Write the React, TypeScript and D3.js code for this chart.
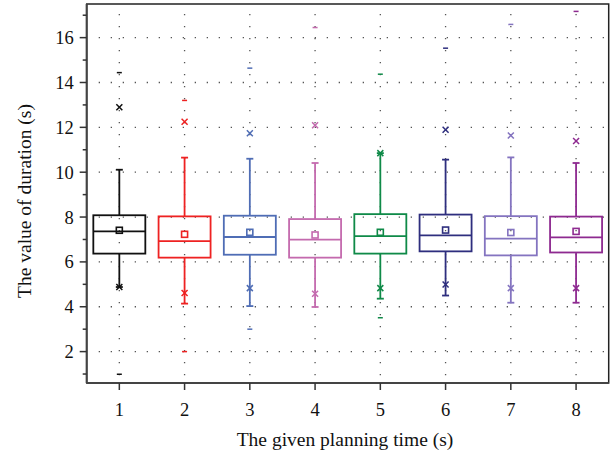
import React from "react";
import * as d3 from "d3";

const categories = [1, 2, 3, 4, 5, 6, 7, 8];
const colors = ["#111111", "#ee2222", "#4f6db5", "#c46aae", "#0f8a48", "#2e2e7e", "#8474c0", "#8e2a90"];
const q1 = [6.37, 6.19, 6.32, 6.19, 6.37, 6.47, 6.29, 6.42];
const medians = [7.36, 6.93, 7.11, 6.99, 7.15, 7.18, 7.04, 7.09];
const q3 = [8.08, 8.03, 8.06, 7.91, 8.13, 8.11, 8.04, 8.02];
const means = [7.41, 7.23, 7.32, 7.2, 7.32, 7.42, 7.31, 7.36];
const whiskerLow = [4.88, 4.14, 4.03, 3.99, 4.36, 4.5, 4.18, 4.18];
const whiskerHigh = [10.11, 10.65, 10.6, 10.41, 10.85, 10.56, 10.66, 10.41];
const p1 = [4.88, 4.61, 4.83, 4.58, 4.83, 4.99, 4.83, 4.83];
const p99 = [12.9, 12.25, 11.74, 12.09, 10.85, 11.89, 11.64, 11.39];
const minVals = [0.99, 2.0, 3.0, null, 3.51, null, null, null];
const maxVals = [14.44, 13.2, 14.64, 16.45, 14.37, 15.53, 16.59, 17.17];
const yMajorTicks = [2, 4, 6, 8, 10, 12, 14, 16];
const yMinorTicks = [1, 3, 5, 7, 9, 11, 13, 15, 17];

const W = 611, H = 458;
const L = 86.7, R = 608.7, T = 4, B = 383;

export default function App() {
  const x = d3.scaleLinear().domain([0.5, 8.5]).range([L, R]);
  const y = d3.scaleLinear().domain([0.6, 17.5]).range([B, T]);
  const bw = 52;
  const font = "'Liberation Serif', 'DejaVu Serif', serif";
  return (
    <svg width={W} height={H} style={{ position: "absolute", left: 0, top: 0 }}>
      <rect x={0} y={0} width={W} height={H} fill="#fff" />
      {/* grid */}
      <g stroke="#555" strokeWidth={1.3} strokeDasharray="1.3 10.7">
        {yMajorTicks.map((t) => (
          <line key={"h" + t} x1={L + 12} x2={R} y1={y(t)} y2={y(t)} />
        ))}
        {categories.map((c) => (
          <line key={"v" + c} x1={x(c)} x2={x(c)} y1={T + 10} y2={B} />
        ))}
      </g>
      {/* boxes */}
      {categories.map((c, i) => {
        const cx = x(c);
        const col = colors[i];
        const m = 3;
        return (
          <g key={c} stroke={col} fill="none" strokeWidth={1.8}>
            <line x1={cx} x2={cx} y1={y(q3[i])} y2={y(whiskerHigh[i])} />
            <line x1={cx} x2={cx} y1={y(q1[i])} y2={y(whiskerLow[i])} />
            <line x1={cx - 3.5} x2={cx + 3.5} y1={y(whiskerHigh[i])} y2={y(whiskerHigh[i])} />
            <line x1={cx - 3.5} x2={cx + 3.5} y1={y(whiskerLow[i])} y2={y(whiskerLow[i])} />
            <rect x={cx - bw / 2} y={y(q3[i])} width={bw} height={y(q1[i]) - y(q3[i])} />
            <line x1={cx - bw / 2} x2={cx + bw / 2} y1={y(medians[i])} y2={y(medians[i])} />
            <rect x={cx - m} y={y(means[i]) - m} width={2 * m} height={2 * m} strokeWidth={1.6} />
            {[p1[i], p99[i]].map((v, k) => (
              <g key={k} strokeWidth={1.5}>
                <line x1={cx - m} x2={cx + m} y1={y(v) - m} y2={y(v) + m} />
                <line x1={cx - m} x2={cx + m} y1={y(v) + m} y2={y(v) - m} />
              </g>
            ))}
            {maxVals[i] != null && (
              <line x1={cx - 2.5} x2={cx + 2.5} y1={y(maxVals[i] as number)} y2={y(maxVals[i] as number)} strokeWidth={1.5} />
            )}
            {minVals[i] != null && (
              <line x1={cx - 2.5} x2={cx + 2.5} y1={y(minVals[i] as number)} y2={y(minVals[i] as number)} strokeWidth={1.5} />
            )}
          </g>
        );
      })}
      {/* frame */}
      <rect x={L} y={T} width={R - L} height={B - T} fill="none" stroke="#222" strokeWidth={1.5} />
      <line x1={L} x2={L} y1={T} y2={B} stroke="#444" strokeWidth={2} />
      <line x1={L} x2={R} y1={B} y2={B} stroke="#444" strokeWidth={2} />
      {/* y ticks */}
      <g stroke="#333" strokeWidth={1.5}>
        {yMajorTicks.map((t) => (
          <line key={"ym" + t} x1={L - 7} x2={L} y1={y(t)} y2={y(t)} />
        ))}
        {yMinorTicks.map((t) => (
          <line key={"yn" + t} x1={L - 4} x2={L} y1={y(t)} y2={y(t)} />
        ))}
        {categories.map((c) => (
          <line key={"xt" + c} x1={x(c)} x2={x(c)} y1={B} y2={B + 7} />
        ))}
      </g>
      <g fontFamily={font} fontSize={18.5} fill="#111">
        {yMajorTicks.map((t) => (
          <text key={"yl" + t} x={L - 13} y={y(t)} dy="0.35em" textAnchor="end">
            {t}
          </text>
        ))}
        {categories.map((c) => (
          <text key={"xl" + c} x={x(c)} y={B + 33} textAnchor="middle">
            {c}
          </text>
        ))}
        <text x={345} y={446} textAnchor="middle" fontSize={19.5}>
          The given planning time (s)
        </text>
        <text transform={`translate(31,201) rotate(-90)`} textAnchor="middle" fontSize={19.5}>
          The value of duration (s)
        </text>
      </g>
    </svg>
  );
}
